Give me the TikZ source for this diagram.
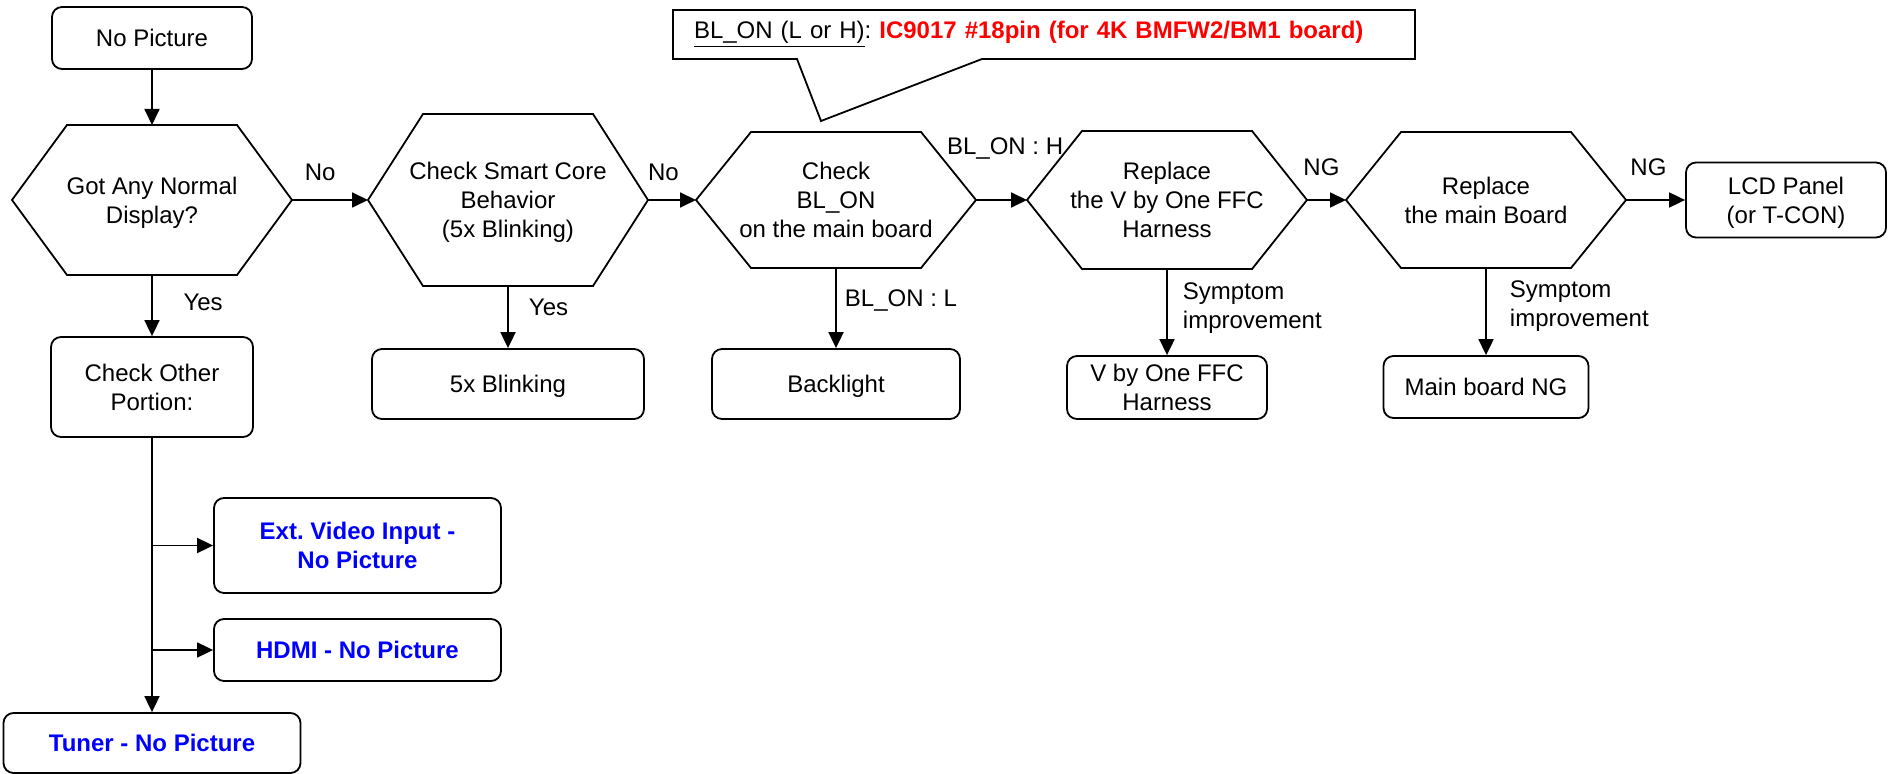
\documentclass[tikz,border=0pt]{standalone}
\usepackage{fontspec}
\setmainfont{Liberation Sans}
\usepackage{xcolor}
\usetikzlibrary{arrows.meta,positioning,calc}
\definecolor{portblue}{RGB}{0,0,255}
\definecolor{pinred}{RGB}{255,0,0}
\frenchspacing

\begin{document}
\begin{tikzpicture}[x=0.5pt,y=-0.5pt,
    every node/.style={font=\fontsize{12}{14.4}\selectfont},
    box/.style={draw=black,line width=0.9pt,rounded corners=5pt,align=center,inner sep=2pt,text depth=0pt},
    hexq/.style={minimum width=140pt,align=center,outer sep=0pt,inner sep=0pt,text depth=0pt},
    port/.style={box,text=portblue,font=\fontsize{12}{14.4}\selectfont\bfseries},
    flow/.style={-{Triangle[length=8pt,width=7.5pt]},line width=0.9pt},
    tag/.style={inner sep=3.33pt}
  ]
    \useasboundingbox (0,0) rectangle (1888,774);
    \node[box,minimum width=100pt,minimum height=31pt] (nopic) at (152,38) {No Picture};
    \node[hexq,minimum height=75pt] (q1) at (152,200) {Got Any Normal\\Display?};
    \node[hexq,minimum height=86pt] (q2) at (508,200) {Check Smart Core\\Behavior\\(5x Blinking)};
    \node[hexq,minimum height=68pt] (q3) at (836,200) {Check\\BL\_ON\\on the main board};
    \node[hexq,minimum height=69pt] (q4) at (1167,200) {Replace\\the V by One FFC\\Harness};
    \node[hexq,minimum height=68pt] (q5) at (1486,200) {Replace\\the main Board};
    \node[box,minimum width=100pt,minimum height=37.5pt] (lcd) at (1786,200) {LCD Panel\\(or T-CON)};
    \node[box,minimum width=101pt,minimum height=50pt] (other) at (152,387) {Check Other\\Portion:};
    \node[box,minimum width=136pt,minimum height=35pt] (blink) at (508,384) {5x Blinking};
    \node[box,minimum width=124pt,minimum height=35pt] (backlight) at (836,384) {Backlight};
    \node[box,minimum width=100pt,minimum height=31.5pt] (vbo) at (1167,387.5) {V by One FFC\\Harness};
    \node[box,minimum width=102.5pt,minimum height=31pt] (mainng) at (1486,387) {Main board NG};
    \node[port,minimum width=143.5pt,minimum height=47.5pt] (ext) at (357.5,545.5) {Ext. Video Input -\\No Picture};
    \node[port,minimum width=143.5pt,minimum height=31pt] (hdmi) at (357.5,650) {HDMI - No Picture};
    \node[port,minimum width=148.5pt,minimum height=30pt] (tuner) at (152,743) {Tuner - No Picture};
    \foreach \q in {q1,q2,q3,q4,q5}
      \draw[line width=0.9pt] ([xshift=27.5pt]\q.north west) -- ([xshift=-27.5pt]\q.north east) -- (\q.east)
        -- ([xshift=-27.5pt]\q.south east) -- ([xshift=27.5pt]\q.south west) -- (\q.west) -- cycle;
    \node[anchor=north west,text width=350pt,inner xsep=10.5pt,inner ysep=0pt,outer sep=0pt,
      minimum height=24.5pt,align=left] (note) at (673,10)
      {\underline{BL\_ON (L or H)}: \textcolor{pinred}{\bfseries IC9017 \#18pin (for 4K BMFW2/BM1 board)}};
    \coordinate (tip) at (821,121);
    \draw[line width=0.9pt] (note.north west) -- (note.north east) -- (note.south east)
      -- ([xshift=154.5pt]note.south west) -- (tip) -- ([xshift=62pt]note.south west) -- (note.south west) -- cycle;
    \draw[flow] (nopic) -- (q1);
    \draw[flow] (q1) -- node[tag,above=6pt,pos=0.37]{No} (q2);
    \draw[flow] (q2) -- node[tag,above=6pt,pos=0.32]{No} (q3);
    \draw[flow] (q3) -- node[tag,above=16.4pt,pos=0.57]{BL\_ON : H} (q4);
    \draw[flow] (q4) -- node[tag,above=8.5pt,pos=0.37]{NG} (q5);
    \draw[flow] (q5) -- node[tag,above=8.5pt,pos=0.38]{NG} (lcd);
    \draw[flow] (q1) -- node[tag,right=12pt,pos=0.45]{Yes} (other);
    \draw[flow] (q2) -- node[tag,right=6.7pt,pos=0.35]{Yes} (blink);
    \draw[flow] (q3) -- node[tag,right=0.7pt,pos=0.4]{BL\_ON : L} (backlight);
    \draw[flow] (q4) -- node[tag,right=4.2pt,pos=0.45,align=left]{Symptom\\improvement} (vbo);
    \draw[flow] (q5) -- node[tag,right=8.2pt,pos=0.44,align=left]{Symptom\\improvement} (mainng);
    \draw[flow] (other) -- (tuner);
    \draw[flow] (other.south |- ext.west) -- (ext.west);
    \draw[flow] (other.south |- hdmi.west) -- (hdmi.west);
  \end{tikzpicture}
\end{document}
